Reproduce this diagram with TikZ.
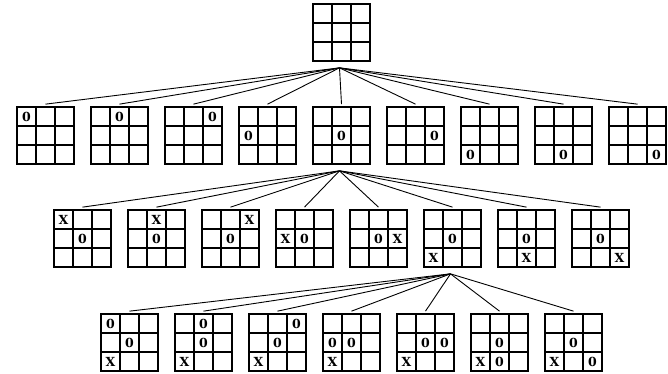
\documentclass[tikz,border=0pt]{standalone}
\usepackage{fontspec}
\usepackage{tikz}
\usetikzlibrary{positioning}

\newfontfamily\markfont{DejaVu Serif}

\newcommand{\putmarks}[2]{%
  \foreach \mc/\mr/\ms in {#2}
    \node[cellmark] at ([xshift=\mc*19pt, yshift=\mr*19pt]#1.center) {\ms};
}

\begin{document}
\begin{tikzpicture}[
  x=1pt, y=-1pt,
  board/.style={draw, line width=1.7pt, minimum size=57pt, inner sep=0pt,
    path picture={
      \foreach \d in {-9.5pt, 9.5pt} {
        \draw[line width=1.7pt] ([xshift=\d]path picture bounding box.north)
          -- ([xshift=\d]path picture bounding box.south);
        \draw[line width=1.7pt] ([yshift=\d]path picture bounding box.west)
          -- ([yshift=\d]path picture bounding box.east);
      }}},
  cellmark/.style={inner sep=0pt, font=\fontsize{12.5}{12.5}\markfont\bfseries},
  treeedge/.style={draw, line width=0.9pt}
  ]

  \useasboundingbox (0,0) rectangle (668,374);

  % root
  \node[board] (root) at (341.5,32.5) {};

  % first move
  \foreach \i in {1,...,9} {
    \node[board] (a\i) at ({45.5+74*(\i-1)},135.5) {};
    \pgfmathtruncatemacro{\cc}{mod(\i-1,3)-1}
    \pgfmathtruncatemacro{\rr}{1-floor((\i-1)/3)}
    \node[cellmark] at ([xshift=\cc*19pt, yshift=\rr*19pt]a\i.center) {0};
    \draw[treeedge] ([xshift=-2pt, yshift=-6pt]root.south) -- ([yshift=2pt]a\i.north);
  }

  % reply
  \foreach \i/\xc/\yr in {1/-1/1, 2/0/1, 3/1/1, 4/-1/0, 5/1/0, 6/-1/-1, 7/0/-1, 8/1/-1} {
    \node[board] (b\i) at ({82.5+74*(\i-1)},238.5) {};
    \putmarks{b\i}{0/0/0, \xc/\yr/X}
    \draw[treeedge] ([xshift=-2pt, yshift=-6pt]a5.south) -- ([yshift=2pt]b\i.north);
  }

  % second move
  \foreach \i/\xc/\yr in {1/-1/1, 2/0/1, 3/1/1, 4/-1/0, 5/1/0, 6/0/-1, 7/1/-1} {
    \node[board] (c\i) at ({129.5+74*(\i-1)},342.5) {};
    \putmarks{c\i}{0/0/0, -1/-1/X, \xc/\yr/0}
    \draw[treeedge] ([xshift=-2pt, yshift=-6pt]b6.south) -- ([yshift=2pt]c\i.north);
  }

\end{tikzpicture}
\end{document}
